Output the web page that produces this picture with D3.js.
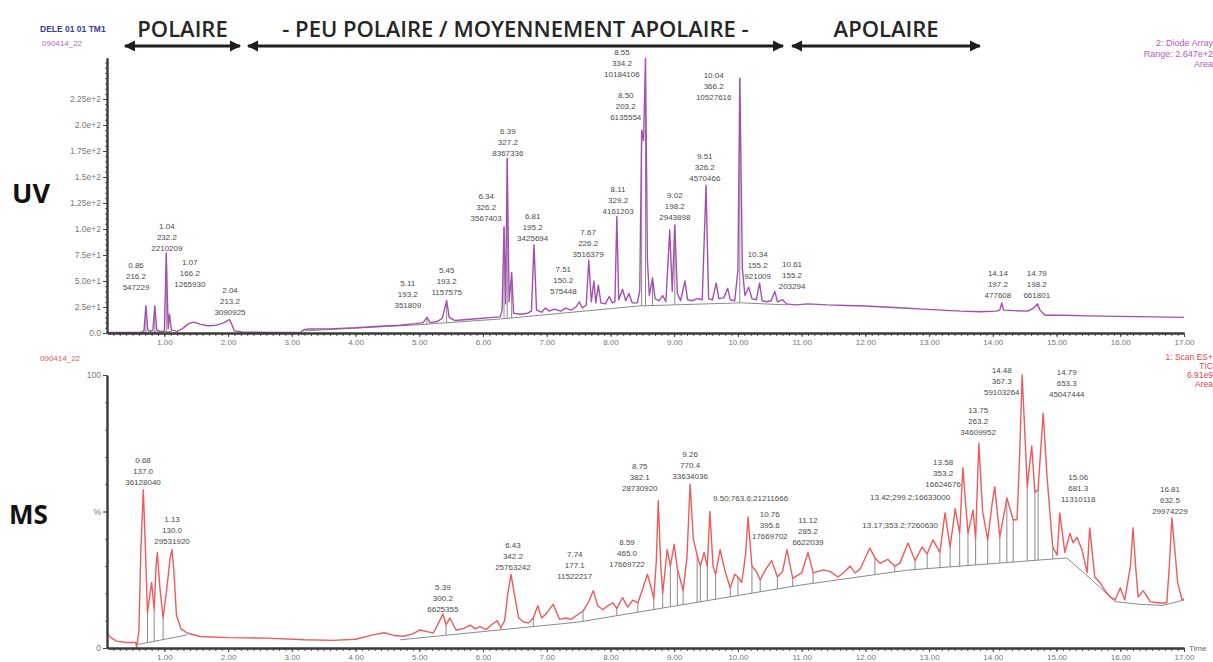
<!DOCTYPE html>
<html>
<head>
<meta charset="utf-8">
<script src="https://d3js.org/d3.v7.min.js"></script>
<style>
  body { margin: 0; background: #fff; }
  svg { display: block; font-family: "Liberation Sans", Arial, sans-serif; }
</style>
</head>
<body>
<script>
// ---- data (time in min, UV in AU units, MS in %) ----
var uvTrace = [
  [0.10,0.6],[0.40,0.5],[0.64,0.8],[0.68,2],[0.71,26],[0.74,3],[0.78,1.5],[0.82,3],[0.85,26],[0.88,3],
  [0.95,1.2],[1.00,2],[1.03,77],[1.06,4],[1.08,18],[1.11,3],[1.20,1.5],[1.28,4],[1.38,9],[1.46,10.5],
  [1.56,8.5],[1.68,7],[1.82,7.5],[1.94,10],[2.02,13],[2.06,8],[2.10,2],[2.25,0.8],[2.70,0.6],[3.14,0.8],
  [3.20,3.5],[3.28,3.8],[3.60,4],[4.00,5],[4.38,6.5],[4.70,7.5],[4.95,9],[5.06,10],[5.12,15],[5.17,10],
  [5.28,11],[5.36,14],[5.43,31],[5.47,15],[5.56,12],[5.75,13],[5.95,14],[6.15,15],[6.27,15.5],[6.30,22],
  [6.33,102],[6.355,28],[6.38,168],[6.41,30],[6.45,58],[6.48,19],[6.58,18],[6.70,19],[6.76,21],[6.80,85],
  [6.84,22],[6.92,20],[6.98,24],[7.04,21],[7.12,23],[7.22,21],[7.30,24],[7.38,22],[7.46,25],[7.51,30],
  [7.56,24],[7.62,27],[7.66,70],[7.70,30],[7.74,50],[7.77,29],[7.81,46],[7.85,29],[7.92,28],[7.98,35],
  [8.03,29],[8.07,30],[8.10,112],[8.13,32],[8.19,42],[8.24,31],[8.29,38],[8.34,29],[8.42,29],[8.46,40],
  [8.49,195],[8.52,185],[8.55,264],[8.58,70],[8.61,36],[8.66,53],[8.70,33],[8.76,31],[8.82,36],[8.87,30],
  [8.93,99],[8.97,40],[9.01,104],[9.05,38],[9.10,31],[9.17,50],[9.21,32],[9.28,31],[9.36,33],[9.44,32],
  [9.50,142],[9.54,33],[9.60,32],[9.66,48],[9.70,33],[9.78,34],[9.84,43],[9.88,32],[9.95,31],[10.00,60],
  [10.03,245],[10.07,62],[10.11,36],[10.17,44],[10.22,33],[10.29,32],[10.34,48],[10.38,31],[10.45,30],[10.52,31],
  [10.58,40],[10.62,30],[10.70,32],[10.76,28],[10.90,27],[11.10,28],[11.40,27],[11.70,26.5],[12.00,26],[12.30,25],
  [12.60,24],[12.90,23],[13.20,22],[13.50,21],[13.80,20.5],[14.05,21],[14.11,22],[14.14,29],[14.17,22],[14.35,21.5],
  [14.55,21],[14.64,24],[14.70,28],[14.74,22],[14.82,17],[15.10,17],[15.50,16.5],[16.00,16],[16.50,15.5],[17.00,15]
];
var uvBaseline = [
  [[0.62,0.5],[1.12,1.5]],
  [[3.20,2],[5.00,8],[6.28,13.5],[8.44,26],[10.05,29],[10.78,27]]
];
var uvDrops = [0.71, 0.85, 1.03, 5.12, 5.43, 6.33, 6.38, 6.45, 8.49, 8.55, 8.66, 9.01, 10.03];

var msTrace = [
  [0.10,5.5],[0.16,3.8],[0.25,2.5],[0.40,2.0],[0.55,2.0],[0.565,0.3],[0.60,6],[0.63,35],[0.67,58],[0.70,38],
  [0.735,13],[0.77,19],[0.80,24],[0.84,14],[0.87,30],[0.89,35],[0.93,22],[0.98,11],[1.04,22],[1.09,33],
  [1.12,36],[1.15,28],[1.19,12],[1.26,7],[1.36,5.5],[1.56,4.2],[2.00,3.8],[2.60,3.6],[3.20,3.0],[3.65,2.8],
  [4.00,3.2],[4.27,4.8],[4.45,5.6],[4.60,4.6],[4.75,4.3],[4.90,5.2],[5.01,6.6],[5.12,6.0],[5.22,5.5],[5.30,9],
  [5.37,12.5],[5.42,8.5],[5.48,11],[5.58,6.5],[5.70,7.2],[5.80,8.4],[5.88,7],[5.95,7.8],[6.05,6.8],[6.14,8.6],
  [6.22,10],[6.28,7.5],[6.34,10],[6.39,20],[6.44,27],[6.49,20],[6.56,11],[6.64,9.5],[6.72,9.2],[6.79,11],
  [6.86,15.5],[6.92,11],[6.99,12.5],[7.10,16],[7.20,10.5],[7.30,11],[7.38,10.5],[7.47,12],[7.57,13.5],[7.66,17],
  [7.73,21],[7.80,15.5],[7.88,14],[7.96,15.5],[8.04,16.5],[8.10,14.5],[8.19,18.5],[8.27,15],[8.35,17.5],[8.43,16.5],
  [8.51,22],[8.58,27],[8.64,22],[8.68,18],[8.72,32],[8.75,54],[8.79,30],[8.82,20],[8.89,36],[8.94,30],
  [9.00,38],[9.05,29],[9.14,21],[9.20,33],[9.25,60],[9.30,40],[9.36,34],[9.41,30],[9.47,35],[9.52,30],
  [9.56,50],[9.61,30],[9.65,27],[9.72,36],[9.80,28],[9.88,22],[9.95,27],[10.00,26],[10.06,24],[10.12,34],
  [10.16,48],[10.22,30],[10.29,28],[10.35,25],[10.44,29],[10.53,32],[10.62,26],[10.70,28],[10.77,36],[10.86,25.5],
  [11.00,27.5],[11.10,35],[11.18,27.5],[11.34,28.6],[11.45,28],[11.57,26],[11.68,28],[11.76,30],[11.84,27.5],[11.92,29],
  [12.07,36.6],[12.15,33],[12.23,31],[12.35,32.5],[12.46,30],[12.54,31],[12.67,38.5],[12.78,32],[12.89,37],[12.97,34.5],
  [13.06,39.6],[13.17,35],[13.25,49.5],[13.33,37],[13.41,51],[13.48,42],[13.53,66],[13.61,42],[13.69,50.5],[13.73,40],
  [13.78,75],[13.84,50],[13.92,39.6],[13.99,53],[14.03,59],[14.11,40.6],[14.22,55],[14.32,47],[14.38,47],[14.42,70],
  [14.46,100],[14.50,80],[14.54,59],[14.61,74],[14.66,57],[14.71,58],[14.79,86],[14.85,63],[14.94,37],[15.01,34],
  [15.05,49.5],[15.13,35],[15.21,42],[15.26,38.5],[15.32,40.6],[15.40,36],[15.48,27.5],[15.52,44],[15.60,26],[15.68,24],
  [15.76,21],[15.84,18.7],[15.92,17.6],[16.00,22],[16.07,17.6],[16.16,30],[16.20,44],[16.24,30],[16.28,18.7],[16.36,21],
  [16.47,17],[16.62,16.5],[16.73,16.5],[16.77,30],[16.81,47.6],[16.86,35],[16.90,24],[16.97,17.6],[17.00,18]
];
var msBaseline = [
  [[0.565,1.2],[1.36,4.8]],
  [[4.70,3.0],[7.50,9.5],[10.97,23],[12.65,28.5],[15.16,33],[15.55,25],[15.92,17.0],[16.30,16.0],[16.67,15.6],[17.00,17.6]]
];
var msDrops = [0.735, 0.84, 0.98, 5.42, 6.28, 6.79, 7.57, 8.10, 8.43, 8.68, 8.82, 8.94, 9.05, 9.14, 9.36, 9.41,
  9.52, 9.65, 9.88, 10.00, 10.22, 10.35, 10.62, 10.86, 11.18, 12.15, 12.46, 12.78, 12.97, 13.17, 13.33, 13.48,
  13.61, 13.73, 13.92, 14.11, 14.22, 14.32, 14.54, 14.66, 14.71, 14.94];

// peak annotations: text lines and where the last line sits (time, signal)
var uvLabels = [
  {lines: ['0.86','216.2','547229'], at: [0.555, 41]},
  {lines: ['1.04','232.2','2210209'], at: [1.04, 79]},
  {lines: ['1.07','166.2','1265930'], at: [1.40, 44]},
  {lines: ['2.04','213.2','3090925'], at: [2.03, 17]},
  {lines: ['5.11','193.2','351809'], at: [4.82, 24]},
  {lines: ['5.45','193.2','1157575'], at: [5.43, 36.5]},
  {lines: ['6.34','326.2','3567403'], at: [6.05, 107.7]},
  {lines: ['6.39','327.2','8367336'], at: [6.39, 170]},
  {lines: ['6.81','195.2','3425694'], at: [6.78, 88.5]},
  {lines: ['7.51','150.2','575448'], at: [7.26, 37.5]},
  {lines: ['7.67','226.2','3516379'], at: [7.65, 73]},
  {lines: ['8.11','329.2','4161203'], at: [8.12, 114.4]},
  {lines: ['8.50','203.2','6135554'], at: [8.24, 204.8]},
  {lines: ['8.55','334.2','10184106'], at: [8.18, 246]},
  {lines: ['9.02','198.2','2943898'], at: [9.01, 108.7]},
  {lines: ['9.51','326.2','4570466'], at: [9.48, 146]},
  {lines: ['10.04','366.2','10527616'], at: [9.62, 224]},
  {lines: ['10.34','155.2','921009'], at: [10.31, 52]},
  {lines: ['10.61','155.2','203294'], at: [10.85, 42]},
  {lines: ['14.14','197.2','477608'], at: [14.08, 33.7]},
  {lines: ['14.79','198.2','661801'], at: [14.69, 33.7]}
];
var msLabels = [
  {lines: ['0.68','137.0','36128040'], at: [0.665, 59.7]},
  {lines: ['1.13','130.0','29531920'], at: [1.12, 38.1]},
  {lines: ['5.39','300.2','6625355'], at: [5.37, 13.2]},
  {lines: ['6.43','342.2','25763242'], at: [6.47, 28.6]},
  {lines: ['7.74','177.1','11522217'], at: [7.44, 25.3]},
  {lines: ['8.59','465.0','17669722'], at: [8.26, 29.7]},
  {lines: ['8.75','382.1','28730920'], at: [8.46, 57.5]},
  {lines: ['9.26','770.4','33634036'], at: [9.25, 61.9]},
  {lines: ['9.50;763.6;21211666'], at: [9.61, 53.8], anchor: 'start'},
  {lines: ['10.76','395.6','17669702'], at: [10.50, 39.9]},
  {lines: ['11.12','285.2','6622039'], at: [11.10, 37.7]},
  {lines: ['13.17;353.2;7260630'], at: [13.14, 44], anchor: 'end'},
  {lines: ['13.42;299.2;16633000'], at: [13.33, 54.2], anchor: 'end'},
  {lines: ['13.58','353.2','16624676'], at: [13.22, 59]},
  {lines: ['13.75','263.2','34609952'], at: [13.77, 78]},
  {lines: ['14.48','367.3','59103264'], at: [14.14, 92.7]},
  {lines: ['14.79','653.3','45047444'], at: [15.16, 91.9]},
  {lines: ['15.06','681.3','11310118'], at: [15.34, 53.5]},
  {lines: ['16.81','632.5','29974229'], at: [16.78, 49.1]}
];

var uvTickValues = [0, 25, 50, 75, 100, 125, 150, 175, 200, 225];
var uvTickLabels = ['0.0','2.5e+1','5.0e+1','7.5e+1','1.0e+2','1.25e+2','1.5e+2','1.75e+2','2.0e+2','2.25e+2'];
var msTickValues = [0, 50, 100];
var msTickLabels = ['0', '%', '100'];
var timeTicks = d3.range(1, 18);

var zones = [
  {name: 'POLAIRE', from: 0.35, to: 2.22},
  {name: '- PEU POLAIRE / MOYENNEMENT APOLAIRE -', from: 2.28, to: 10.74},
  {name: 'APOLAIRE', from: 10.82, to: 13.83}
];

// ---- canvas ----
var width = 1213, height = 662;
var svg = d3.select('body').append('svg')
  .attr('width', width)
  .attr('height', height);

var x = d3.scaleLinear().domain([0.1, 17.0]).range([107, 1184]);
var yUV = d3.scaleLinear().domain([0, 264.7]).range([333, 57.7]);
var yMS = d3.scaleLinear().domain([0, 100]).range([648, 375]);

function nearest(trace, t) {
  return trace.reduce((a, b) => Math.abs(b[0] - t) < Math.abs(a[0] - t) ? b : a);
}
function baseAt(segs, t) {
  for (var s of segs) {
    for (var i = 0; i < s.length - 1; i++) {
      if (t >= s[i][0] && t <= s[i + 1][0]) {
        var f = (t - s[i][0]) / (s[i + 1][0] - s[i][0]);
        return s[i][1] + f * (s[i + 1][1] - s[i][1]);
      }
    }
  }
  return 0;
}

function drawPanel(y, trace, base, drops, labels, color) {
  var g = svg.append('g');
  var line = d3.line().x(d => x(d[0])).y(d => y(d[1]));

  // integration baseline
  g.selectAll('.base').data(base).enter().append('path')
    .attr('d', line).attr('fill', 'none')
    .attr('stroke', '#8a8a8a').attr('stroke-width', 1);

  // drop lines from baseline to trace
  g.selectAll('.drop').data(drops).enter().append('line')
    .attr('x1', d => x(nearest(trace, d)[0]))
    .attr('x2', d => x(nearest(trace, d)[0]))
    .attr('y1', d => y(baseAt(base, nearest(trace, d)[0])))
    .attr('y2', d => y(nearest(trace, d)[1]))
    .attr('stroke', '#8a8a8a').attr('stroke-width', 1);

  // signal
  g.append('path').datum(trace)
    .attr('d', line)
    .attr('fill', 'none')
    .attr('stroke', color)
    .attr('stroke-width', 1.4)
    .attr('stroke-linejoin', 'round');

  // peak labels
  var lab = g.selectAll('.lab').data(labels).enter().append('text')
    .attr('text-anchor', d => d.anchor || 'middle')
    .attr('font-size', 8)
    .attr('fill', '#4a4a4a');
  lab.each(function (d) {
    var n = d.lines.length;
    d3.select(this).selectAll('tspan').data(d.lines).enter().append('tspan')
      .attr('x', x(d.at[0]))
      .attr('y', (s, i) => y(d.at[1]) - (n - 1 - i) * 11)
      .text(s => s);
  });
  return g;
}

function drawTimeAxis(y0) {
  var g = svg.append('g').attr('transform', 'translate(0,' + y0 + ')');
  g.append('g')
    .call(d3.axisBottom(x).tickValues(d3.range(2, 171).map(i => i / 10)).tickSize(3).tickFormat('').tickSizeOuter(0))
    .call(s => s.select('.domain').remove())
    .selectAll('line').attr('stroke', '#555');
  g.append('g')
    .call(d3.axisBottom(x).tickValues(timeTicks).tickSize(4).tickPadding(2).tickFormat(d3.format('.2f')).tickSizeOuter(0))
    .call(s => s.select('.domain').attr('stroke', '#3a3a3a').attr('stroke-width', 2.6))
    .call(s => s.selectAll('line').attr('stroke', '#444'))
    .call(s => s.selectAll('text').attr('font-size', 8).attr('fill', '#777').attr('font-family', 'Liberation Sans, Arial'));
}

function drawSignalAxis(y, values, labels, minorStep) {
  var g = svg.append('g').attr('transform', 'translate(107,0)');
  var top = y.domain()[1];
  g.append('g')
    .call(d3.axisLeft(y).tickValues(d3.range(0, top, minorStep)).tickSize(2).tickFormat('').tickSizeOuter(0))
    .call(s => s.select('.domain').remove())
    .selectAll('line').attr('stroke', '#666');
  g.append('g')
    .call(d3.axisLeft(y).tickValues(values).tickSize(4).tickPadding(2)
      .tickFormat((d, i) => labels[i]).tickSizeOuter(0))
    .call(s => s.select('.domain').attr('stroke', '#3a3a3a').attr('stroke-width', 2.4))
    .call(s => s.selectAll('line').attr('stroke', '#444'))
    .call(s => s.selectAll('text').attr('font-size', 8.5).attr('fill', '#777').attr('font-family', 'Liberation Sans, Arial'));
}

// UV panel
drawPanel(yUV, uvTrace, uvBaseline, uvDrops, uvLabels, '#a44fb0');
drawSignalAxis(yUV, uvTickValues, uvTickLabels, 5);
drawTimeAxis(333);

// MS panel
drawPanel(yMS, msTrace, msBaseline, msDrops, msLabels, '#ef5a5a');
drawSignalAxis(yMS, msTickValues, msTickLabels, 10);
drawTimeAxis(648);

svg.append('text').attr('x', 1189).attr('y', 651)
  .attr('font-size', 8).attr('fill', '#666').text('Time');

// panel headers
svg.append('text').attr('x', 40).attr('y', 32)
  .attr('font-size', 8.5).attr('font-weight', 'bold').attr('fill', '#3b3ba0')
  .text('DELE 01 01 TM1');
svg.append('text').attr('x', 42).attr('y', 46)
  .attr('font-size', 8).attr('fill', '#b36ac0').text('090414_22');
svg.append('text').attr('x', 40).attr('y', 361)
  .attr('font-size', 8).attr('fill', '#e55a5a').text('090414_22');

svg.append('g').selectAll('text')
  .data(['2: Diode Array', 'Range: 2.647e+2', 'Area']).enter().append('text')
  .attr('x', 1213).attr('y', (d, i) => 46 + i * 10.5)
  .attr('text-anchor', 'end').attr('font-size', 9).attr('fill', '#b05ac0').text(d => d);
svg.append('g').selectAll('text')
  .data(['1: Scan ES+', 'TIC', '6.91e9', 'Area']).enter().append('text')
  .attr('x', 1213).attr('y', (d, i) => 360 + i * 9)
  .attr('text-anchor', 'end').attr('font-size', 8.5).attr('fill', '#e54848').text(d => d);

svg.append('text').attr('x', 12).attr('y', 203)
  .attr('font-size', 27).attr('font-weight', 'bold').attr('font-family', 'Open Sans, sans-serif')
  .attr('fill', '#111').text('UV');
svg.append('text').attr('x', 9).attr('y', 524)
  .attr('font-size', 26).attr('font-weight', 'bold').attr('font-family', 'Open Sans, sans-serif')
  .attr('fill', '#111').text('MS');

// polarity zones with double arrows
var defs = svg.append('defs');
defs.append('marker').attr('id', 'ah').attr('viewBox', '0 0 10 10')
  .attr('refX', 9).attr('refY', 5).attr('markerWidth', 4).attr('markerHeight', 4)
  .attr('orient', 'auto-start-reverse')
  .append('path').attr('d', 'M0,0 L10,5 L0,10 z').attr('fill', '#1e1e1e');

var zg = svg.append('g').selectAll('g').data(zones).enter().append('g');
zg.append('line')
  .attr('x1', d => x(d.from) + 2).attr('x2', d => x(d.to) - 2)
  .attr('y1', 46).attr('y2', 46)
  .attr('stroke', '#1e1e1e').attr('stroke-width', 2.8)
  .attr('marker-start', 'url(#ah)').attr('marker-end', 'url(#ah)');
zg.append('text')
  .attr('x', d => (x(d.from) + x(d.to)) / 2).attr('y', 37)
  .attr('text-anchor', 'middle')
  .attr('font-family', 'Open Sans, sans-serif').attr('font-weight', 600)
  .attr('font-size', 22).attr('fill', '#262626')
  .text(d => d.name);
</script>
</body>
</html>
